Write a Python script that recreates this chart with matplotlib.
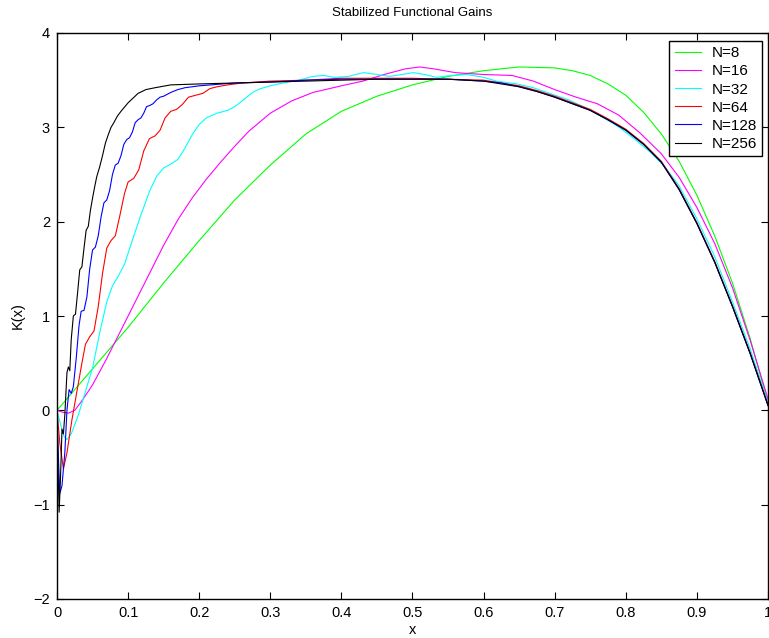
import matplotlib
matplotlib.use('Agg')
import matplotlib.pyplot as plt

plt.rcParams['font.family'] = ['Liberation Sans', 'DejaVu Sans']

# ---- data ----
x8 = [0, 0.05, 0.1, 0.15, 0.2, 0.25, 0.3, 0.35, 0.4, 0.45, 0.5, 0.55, 0.6, 0.65,
      0.7, 0.725, 0.75, 0.775, 0.8, 0.825, 0.85, 0.875, 0.9, 0.925, 0.95, 0.975, 1.0]
y8 = [0.0, 0.44, 0.88, 1.35, 1.80, 2.23, 2.60, 2.93, 3.17, 3.33, 3.45, 3.54, 3.60, 3.64,
      3.63, 3.60, 3.55, 3.46, 3.34, 3.16, 2.93, 2.64, 2.28, 1.85, 1.35, 0.76, 0.08]

x16 = [0, 0.008, 0.016, 0.025, 0.035, 0.05, 0.07, 0.09, 0.11, 0.13, 0.15, 0.17, 0.19,
       0.21, 0.23, 0.25, 0.27, 0.3, 0.33, 0.36, 0.4, 0.43, 0.46, 0.49, 0.51, 0.53, 0.56,
       0.6, 0.64, 0.67, 0.7, 0.73, 0.76, 0.79, 0.82, 0.85, 0.875, 0.9, 0.925, 0.95, 0.975, 1.0]
y16 = [0.0, -0.02, -0.03, 0.0, 0.1, 0.27, 0.55, 0.85, 1.15, 1.45, 1.75, 2.02, 2.25,
       2.45, 2.63, 2.80, 2.96, 3.15, 3.28, 3.37, 3.44, 3.49, 3.56, 3.62, 3.64, 3.62, 3.58,
       3.56, 3.55, 3.49, 3.40, 3.32, 3.25, 3.13, 2.94, 2.72, 2.47, 2.15, 1.77, 1.30, 0.74, 0.12]

x32 = [0, 0.005, 0.01, 0.014, 0.02, 0.03, 0.04, 0.05, 0.06, 0.07, 0.078, 0.086, 0.095,
       0.105, 0.117, 0.13, 0.14, 0.15, 0.16, 0.17, 0.18, 0.19, 0.2, 0.21, 0.225, 0.24,
       0.25, 0.262, 0.275, 0.286, 0.3, 0.318, 0.34, 0.36, 0.375, 0.39, 0.41, 0.431, 0.45,
       0.468, 0.485, 0.501, 0.517, 0.534, 0.555, 0.576, 0.6, 0.618, 0.647, 0.67, 0.693,
       0.72, 0.74, 0.76, 0.787, 0.81, 0.834, 0.855, 0.875, 0.9, 0.925, 0.95, 0.975, 1.0]
y32 = [0.0, -0.15, -0.28, -0.31, -0.25, -0.05, 0.2, 0.45, 0.82, 1.15, 1.32, 1.42, 1.55,
       1.78, 2.05, 2.32, 2.48, 2.57, 2.61, 2.66, 2.78, 2.92, 3.03, 3.10, 3.15, 3.18,
       3.22, 3.29, 3.37, 3.41, 3.44, 3.47, 3.50, 3.54, 3.55, 3.53, 3.54, 3.58, 3.56,
       3.54, 3.56, 3.58, 3.56, 3.53, 3.55, 3.56, 3.53, 3.49, 3.46, 3.42, 3.36,
       3.29, 3.22, 3.14, 3.02, 2.89, 2.74, 2.58, 2.38, 2.03, 1.63, 1.15, 0.65, 0.08]

x64 = [0, 0.004, 0.009, 0.014, 0.021, 0.028, 0.035, 0.04, 0.046, 0.052, 0.058, 0.064,
       0.07, 0.076, 0.082, 0.088, 0.095, 0.1, 0.108, 0.115, 0.122, 0.13, 0.138, 0.145,
       0.152, 0.16, 0.168, 0.176, 0.185, 0.195, 0.205, 0.215, 0.225, 0.24, 0.26, 0.3,
       0.35, 0.4, 0.45, 0.5, 0.55, 0.6, 0.625, 0.65, 0.675, 0.7, 0.725, 0.75, 0.775, 0.8,
       0.825, 0.85, 0.875, 0.9, 0.925, 0.95, 0.975, 1.0]
y64 = [0.0, -0.35, -0.62, -0.45, -0.1, 0.2, 0.5, 0.70, 0.78, 0.84, 1.1, 1.45,
       1.72, 1.80, 1.85, 2.05, 2.3, 2.42, 2.46, 2.55, 2.75, 2.88, 2.91, 2.97,
       3.1, 3.17, 3.19, 3.24, 3.32, 3.34, 3.36, 3.41, 3.43, 3.45, 3.47, 3.49,
       3.50, 3.52, 3.52, 3.52, 3.51, 3.50, 3.47, 3.44, 3.39, 3.33, 3.26, 3.19, 3.09, 2.98,
       2.83, 2.64, 2.35, 1.99, 1.58, 1.11, 0.61, 0.06]

x128 = [0, 0.002, 0.004, 0.007, 0.011, 0.014, 0.017, 0.02, 0.023, 0.027, 0.031, 0.034,
        0.038, 0.042, 0.046, 0.05, 0.054, 0.058, 0.062, 0.066, 0.07, 0.074, 0.078, 0.082,
        0.086, 0.09, 0.094, 0.098, 0.102, 0.106, 0.11, 0.114, 0.118, 0.122, 0.126, 0.13,
        0.135, 0.14, 0.145, 0.15, 0.16, 0.17, 0.18, 0.2, 0.25, 0.3, 0.35, 0.4, 0.45, 0.5,
        0.55, 0.6, 0.625, 0.65, 0.675, 0.7, 0.725, 0.75, 0.775, 0.8, 0.825, 0.85, 0.875,
        0.9, 0.925, 0.95, 0.975, 1.0]
y128 = [0.0, -0.5, -0.88, -0.8, -0.45, 0.0, 0.22, 0.18, 0.25, 0.55, 0.9, 1.05,
        1.06, 1.2, 1.5, 1.7, 1.73, 1.85, 2.05, 2.2, 2.23, 2.33, 2.5, 2.6,
        2.62, 2.70, 2.82, 2.87, 2.89, 2.95, 3.05, 3.08, 3.10, 3.15, 3.22, 3.23,
        3.25, 3.29, 3.32, 3.33, 3.37, 3.40, 3.42, 3.44, 3.47, 3.48, 3.50, 3.51, 3.51, 3.51,
        3.51, 3.49, 3.47, 3.43, 3.38, 3.32, 3.25, 3.18, 3.08, 2.97, 2.82, 2.63, 2.34,
        1.98, 1.57, 1.10, 0.60, 0.05]

x256 = [0, 0.0015, 0.003, 0.005, 0.007, 0.009, 0.011, 0.014, 0.016, 0.018, 0.02, 0.023,
        0.026, 0.029, 0.032, 0.035, 0.038, 0.041, 0.044, 0.047, 0.05, 0.053, 0.056, 0.06,
        0.064, 0.068, 0.072, 0.076, 0.08, 0.085, 0.09, 0.1, 0.114, 0.125, 0.138, 0.16, 0.2,
        0.25, 0.3, 0.35, 0.4, 0.45, 0.5, 0.55, 0.6, 0.625, 0.65, 0.675, 0.7, 0.725, 0.75,
        0.775, 0.8, 0.825, 0.85, 0.875, 0.9, 0.925, 0.95, 0.975, 1.0]
y256 = [0.0, -0.6, -1.08, -0.7, -0.2, -0.25, -0.05, 0.4, 0.46, 0.42, 0.75, 1.0,
        1.02, 1.25, 1.49, 1.52, 1.72, 1.91, 1.95, 2.12, 2.25, 2.37, 2.48, 2.58,
        2.70, 2.83, 2.92, 3.0, 3.05, 3.12, 3.17, 3.26, 3.36, 3.40, 3.42, 3.45, 3.46,
        3.47, 3.48, 3.49, 3.50, 3.51, 3.51, 3.51, 3.49, 3.46, 3.43, 3.38, 3.32, 3.25, 3.18,
        3.08, 2.97, 2.82, 2.63, 2.34, 1.98, 1.57, 1.10, 0.60, 0.05]

series = [(x8, y8, 'N=8', '#00ff00'),
          (x16, y16, 'N=16', '#ff00ff'),
          (x32, y32, 'N=32', '#00ffff'),
          (x64, y64, 'N=64', '#ff0000'),
          (x128, y128, 'N=128', '#0000ff'),
          (x256, y256, 'N=256', '#000000')]

fig = plt.figure(figsize=(7.69, 6.38), dpi=100)
ax = fig.add_axes([57 / 769, 1 - 599 / 638, 711 / 769, 566 / 638])

for xs, ys, lab, col in series:
    ax.plot(xs, ys, color=col, lw=0.8, label=lab)

ax.set_xlim(0, 1)
ax.set_ylim(-2, 4)
ax.set_xticks([i / 10 for i in range(11)])
ax.set_xticklabels(['0', '0.1', '0.2', '0.3', '0.4', '0.5', '0.6', '0.7', '0.8', '0.9', '1'])
ax.set_yticks(range(-2, 5))
ax.tick_params(direction='in', top=True, right=True, length=5, width=0.8,
               labelsize=10.5, pad=5)
for sp in ax.spines.values():
    sp.set_linewidth(1.0)

ax.set_title('Stabilized Functional Gains', fontsize=9.5, pad=12)
ax.set_xlabel('x', fontsize=10.5, labelpad=2)
ax.set_ylabel('K(x)', fontsize=10.5, labelpad=6)

leg = ax.legend(loc='upper right', bbox_to_anchor=(0.9916, 0.9859), borderaxespad=0,
                fontsize=11, handlelength=1.75, handletextpad=0.65, labelspacing=0.27,
                borderpad=0.35, fancybox=False, framealpha=1)
leg.get_frame().set_edgecolor('black')
leg.get_frame().set_linewidth(1.0)

fig.savefig('out.png', dpi=100)
